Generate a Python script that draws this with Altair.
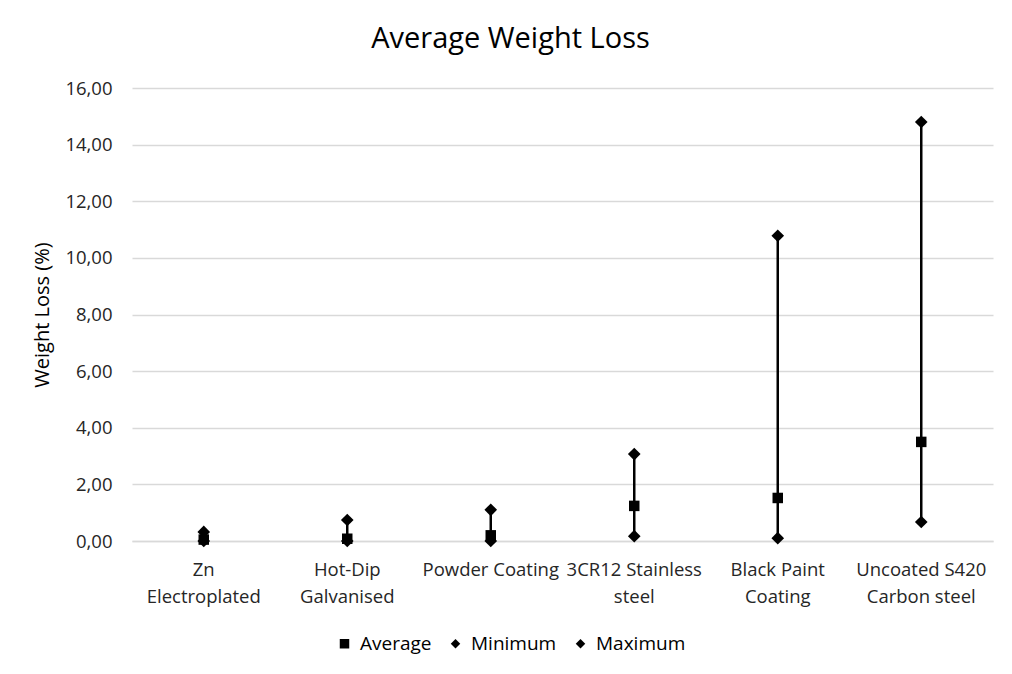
import altair as alt
import pandas as pd

categories = ["Zn|Electroplated", "Hot-Dip|Galvanised", "Powder Coating",
              "3CR12 Stainless|steel", "Black Paint|Coating", "Uncoated S420|Carbon steel"]
average = [0.05, 0.08, 0.20, 1.24, 1.52, 3.50]
minimum = [0.00, 0.00, 0.00, 0.17, 0.10, 0.67]
maximum = [0.32, 0.74, 1.10, 3.07, 10.78, 14.80]
series = ["Average", "Minimum", "Maximum"]

wide = pd.DataFrame({"cat": categories, "avg": average, "min": minimum, "max": maximum})
rows = []
for c, a, mn, mx in zip(categories, average, minimum, maximum):
    rows.append({"cat": c, "series": "Minimum", "value": mn})
    rows.append({"cat": c, "series": "Maximum", "value": mx})
    rows.append({"cat": c, "series": "Average", "value": a})
long = pd.DataFrame(rows)

FONT = "Open Sans"
LBL = "#262626"
xenc = alt.X("cat:N", sort=categories, title=None,
             scale=alt.Scale(paddingInner=0, paddingOuter=0),
             axis=alt.Axis(labelExpr="split(datum.value, '|')", labelAngle=0,
                           labelFontSize=18.5, labelColor=LBL, labelFont=FONT,
                           ticks=False, domainColor="#d9d9d9", domainWidth=1.5,
                           labelPadding=19, labelLineHeight=27))
yscale = alt.Scale(domain=[0, 16])

rules = alt.Chart(wide).mark_rule(color="black", strokeWidth=2.5).encode(
    x=xenc,
    y=alt.Y("min:Q", scale=yscale, title="Weight Loss (%)",
            axis=alt.Axis(values=list(range(0, 17, 2)),
                          labelExpr="replace(format(datum.value, '.2f'), '.', ',')",
                          labelFontSize=18.5, labelColor=LBL, labelFont=FONT,
                          titleFontSize=20, titleFont=FONT, titleColor="#000000",
                          titleFontWeight="normal", titlePadding=12,
                          ticks=False, domain=False, gridColor="#d9d9d9",
                          gridWidth=1.5, labelPadding=20)),
    y2="max:Q",
)

points = alt.Chart(long).mark_point(filled=True, opacity=1, color="black").encode(
    x=xenc,
    y=alt.Y("value:Q", scale=yscale),
    shape=alt.Shape("series:N", sort=series,
                    scale=alt.Scale(domain=series, range=["square", "diamond", "diamond"]),
                    legend=alt.Legend(title=None, orient="none", direction="horizontal",
                                      legendX=203, legendY=546, labelFontSize=19,
                                      labelFont=FONT, labelColor="#000000",
                                      symbolFillColor="black", symbolStrokeColor="black",
                                      symbolSize=90, columnPadding=14, symbolOffset=0,
                                      labelOffset=6)),
    size=alt.condition(alt.datum.series == "Average", alt.value(110), alt.value(160)),
    order=alt.Order("series:N"),
)

chart = alt.layer(rules, points).properties(
    width=861, height=453,
    padding={"left": 124, "top": 80, "right": 11, "bottom": 120},
    autosize=alt.AutoSizeParams(type="none"),
    title=alt.TitleParams("Average Weight Loss", font=FONT, fontSize=29,
                          fontWeight="normal", color="#000000", anchor="middle",
                          frame="group", dx=-52, offset=25),
).configure_view(stroke=None)

chart.save("out.html", embed_options={"renderer": "svg", "actions": False})
